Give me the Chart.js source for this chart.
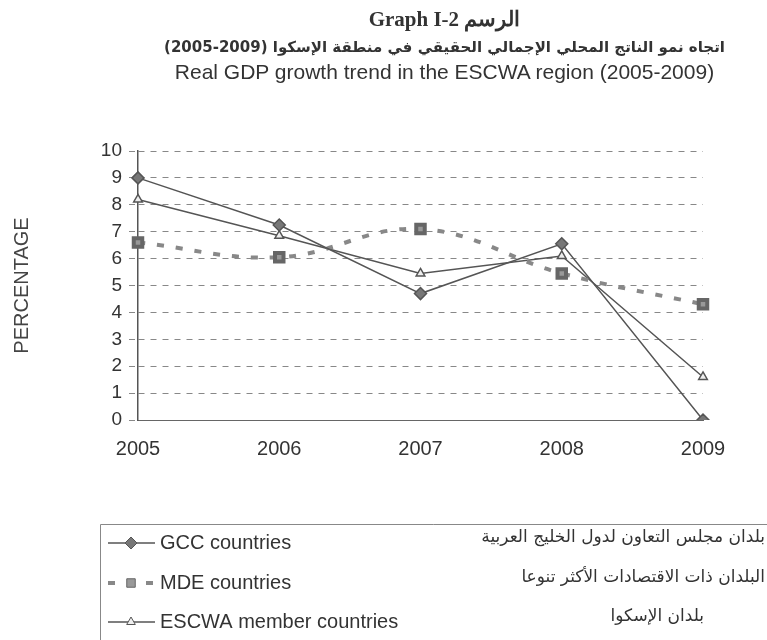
<!DOCTYPE html>
<html>
<head>
<meta charset="utf-8">
<script src="https://cdn.jsdelivr.net/npm/chart.js@4/dist/chart.umd.min.js"></script>
<style>
  body { margin: 0; background: #fff; }
  #wrap { position: relative; width: 767px; height: 640px; overflow: hidden; }
  #chart { position: absolute; left: 0; top: 0; }
  .t { position: absolute; left: 61px; width: 767px; text-align: center; color: #333; white-space: nowrap; }
  #t1 { top: 7px; font: bold 21px "Liberation Serif", serif; }
  #t2 { top: 38px; font: bold 15px "DejaVu Sans", sans-serif; }
  #t3 { top: 60px; font: 21px "Liberation Sans", Arial, sans-serif; }
</style>
</head>
<body>
<div id="wrap">
  <canvas id="chart" width="767" height="640"></canvas>
  <div class="t" id="t1">Graph I-2 الرسم</div>
  <div class="t" id="t2" dir="rtl">اتجاه نمو الناتج المحلي الإجمالي الحقيقي في منطقة الإسكوا (2009-2005)</div>
  <div class="t" id="t3">Real GDP growth trend in the ESCWA region (2005-2009)</div>
</div>
<script>
// data
const years = ['2005', '2006', '2007', '2008', '2009']
const gcc   = [9.0, 7.25, 4.7, 6.55, 0.0]
const mde   = [6.6, 6.05, 7.1, 5.45, 4.3]
const escwa = [8.2, 6.85, 5.45, 6.1, 1.6]
const yTicks = [0, 1, 2, 3, 4, 5, 6, 7, 8, 9, 10]

const labelsEn = ['GCC countries', 'MDE countries', 'ESCWA member countries']
const labelsAr = ['بلدان مجلس التعاون لدول الخليج العربية', 'البلدان ذات الاقتصادات الأكثر تنوعا', 'بلدان الإسكوا']

// legend drawn in a box under the plot, like the scan
const boxLegend = {
  id: 'boxLegend',
  afterDraw (chart) {
    const ctx = chart.ctx
    ctx.save()
    ctx.strokeStyle = '#888'
    ctx.lineWidth = 1
    ctx.beginPath()
    ctx.moveTo(100.5, 640)
    ctx.lineTo(100.5, 524.5)
    ctx.lineTo(767, 524.5)
    ctx.stroke()

    let rows  = [543, 583, 622],
        arEnd = [765, 765, 704]
    chart.data.datasets.forEach((ds, i) => {
      let y = rows[i]
      ctx.save()
      ctx.strokeStyle = ds.borderColor
      ctx.lineWidth = i === 1 ? 4 : 1.5
      ctx.setLineDash(ds.borderDash || [])
      ctx.beginPath()
      ctx.moveTo(108, y)
      ctx.lineTo(155, y)
      ctx.stroke()
      ctx.restore()

      ctx.fillStyle = ds.pointBackgroundColor
      ctx.strokeStyle = ds.pointBorderColor
      Chart.helpers.drawPoint(ctx, {
        pointStyle: ds.pointStyle,
        radius: ds.pointRadius,
        borderWidth: 1
      }, 131, y)

      ctx.fillStyle = '#333'
      ctx.font = '20px "Liberation Sans", Arial, sans-serif'
      ctx.textBaseline = 'middle'
      ctx.textAlign = 'left'
      ctx.direction = 'ltr'
      ctx.fillText(labelsEn[i], 160, y)
      ctx.font = '17px "DejaVu Sans", sans-serif'
      ctx.direction = 'rtl'
      ctx.textAlign = 'right'
      ctx.fillText(labelsAr[i], arEnd[i], y - 5)
      ctx.direction = 'ltr'
    })
    ctx.restore()
  }
}

new Chart(document.getElementById('chart'), {
  type: 'line',
  data: {
    labels: years,
    datasets: [
      {
        label: labelsEn[0],
        data: gcc,
        borderColor: '#555',
        borderWidth: 1.5,
        pointStyle: 'rectRot',
        pointRadius: 6,
        pointBackgroundColor: '#777',
        pointBorderColor: '#555',
        tension: 0
      },
      {
        label: labelsEn[1],
        data: mde,
        borderColor: '#888',
        borderWidth: 4,
        borderDash: [7, 12],
        pointStyle: 'rect',
        pointRadius: 6,
        pointBackgroundColor: '#999',
        pointBorderColor: '#666',
        tension: 0.4
      },
      {
        label: labelsEn[2],
        data: escwa,
        borderColor: '#555',
        borderWidth: 1.5,
        pointStyle: 'triangle',
        pointRadius: 5,
        pointBackgroundColor: '#eee',
        pointBorderColor: '#555',
        tension: 0
      }
    ]
  },
  options: {
    responsive: false,
    animation: false,
    layout: { padding: { top: 151, right: 64, bottom: 170, left: 0 } },
    plugins: { legend: { display: false }, tooltip: { enabled: false } },
    scales: {
      x: {
        afterFit: s => { s.height = 50 },
        grid: { display: false },
        border: { display: true, color: '#666', width: 1 },
        ticks: { color: '#333', padding: 9, font: { family: '"Liberation Sans", Arial, sans-serif', size: 20 } }
      },
      y: {
        min: 0,
        max: 10,
        afterFit: s => { s.width = 138 },
        afterBuildTicks: s => { s.ticks = yTicks.map(v => ({ value: v })) },
        grid: { color: '#888', tickLength: 9, tickBorderDash: [6, 6], tickColor: '#888' },
        border: { display: true, color: '#555', width: 1.5, dash: [6, 6] },
        ticks: { color: '#333', padding: 7, font: { family: '"Liberation Sans", Arial, sans-serif', size: 19 } },
        title: {
          display: true,
          text: 'PERCENTAGE',
          color: '#444',
          padding: { top: 10, bottom: 0 },
          font: { family: '"Liberation Sans", Arial, sans-serif', size: 20 }
        }
      }
    }
  },
  plugins: [boxLegend]
})
</script>
</body>
</html>
